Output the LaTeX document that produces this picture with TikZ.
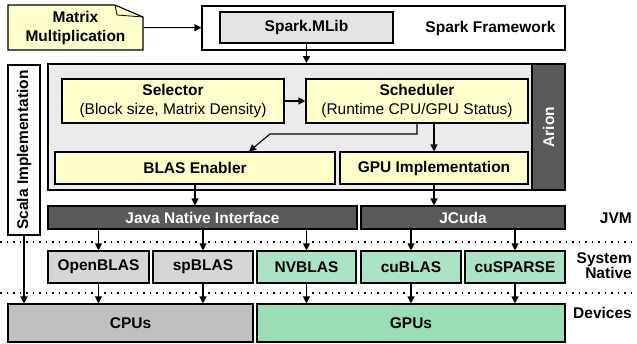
\documentclass[tikz,border=0pt]{standalone}
\usepackage{fontspec}
\setmainfont{Liberation Sans}
\usetikzlibrary{arrows.meta}
\definecolor{noteyellow}{RGB}{255,255,204}
\definecolor{arionbg}{RGB}{235,235,235}
\definecolor{mlibgray}{RGB}{228,228,228}
\definecolor{jvmgray}{RGB}{89,89,89}
\definecolor{cpulib}{RGB}{214,214,214}
\definecolor{cpudev}{RGB}{192,192,192}
\definecolor{gpulib}{RGB}{172,226,198}
\definecolor{gpudev}{RGB}{155,221,180}
\tikzset{
box/.style={draw, line width=1.1pt, inner sep=0pt, align=center, font=\bfseries\fontsize{15.5}{19}\selectfont},
darkbox/.style={box, fill=jvmgray, text=white},
arr/.style={line width=1.1pt, -{Triangle[length=7pt,width=7pt]}},
layersep/.style={line width=1.3pt, dash pattern=on 1.5pt off 5pt},
layerlbl/.style={anchor=east, inner sep=0pt, align=right, font=\bfseries\fontsize{15.5}{15}\selectfont}
}
\begin{document}
\begin{tikzpicture}[x=1pt, y=-1pt]
\useasboundingbox (0,0) rectangle (637,343);
% top row
\coordinate (mmcenter) at (75.5,27.5);
\draw[line width=1.1pt, fill=noteyellow] (8,50) -- (8,5) -- (115,5) -- (143,17) -- (143,50) -- cycle;
\draw[line width=0.8pt] (115,5) -- (117,15) -- (143,17);
\node[box, draw=none, minimum width=135pt, minimum height=45pt] (mm) at (mmcenter) {Matrix\\Multiplication};
\node[box, minimum width=363pt, minimum height=44pt] (sf) at (383.5,28) {};
\node[box, fill=mlibgray, minimum width=173pt, minimum height=31pt] (mlib) at (306.5,27.5) {Spark.MLib};
\node[box, draw=none] (sftxt) at (490.5,28.5) {Spark Framework};
\draw[arr] (mm) -- (sf);
% Arion
\node[box, fill=white, rotate=90, minimum width=170pt, minimum height=32pt] (scala) at (24,150) {Scala Implementation};
\node[box, line width=1.8pt, fill=arionbg, minimum width=517pt, minimum height=126pt] (arion) at (306.5,127) {};
\node[darkbox, line width=1.8pt, rotate=90, minimum width=126pt, minimum height=33pt] (ariontag) at (548.5,127) {Arion};
\node[box, fill=noteyellow, minimum width=222pt, minimum height=44pt] (sel) at (173,101) {Selector\\\mdseries(Block size, Matrix Density)};
\node[box, fill=noteyellow, minimum width=222pt, minimum height=44pt] (sched) at (417,101) {Scheduler\\\mdseries(Runtime CPU/GPU Status)};
\node[box, fill=noteyellow, minimum width=280pt, minimum height=32pt] (blas) at (195,168) {BLAS Enabler};
\node[box, fill=noteyellow, minimum width=188pt, minimum height=32pt] (gpuimpl) at (434,168) {GPU Implementation};
\coordinate (schedturn) at (270,134);
\coordinate (enabin) at (249,0);
\draw[arr] (mlib.south) -- (mlib.south |- arion.north);
\draw[arr] (sel) -- (sched);
\draw[arr] (sched.south) |- (schedturn) -- (blas.north -| enabin);
\draw[arr] (gpuimpl.north |- sched.south) -- (gpuimpl.north);
% JVM
\node[darkbox, minimum width=309pt, minimum height=23pt] (jni) at (202.5,217.5) {Java Native Interface};
\node[darkbox, minimum width=204pt, minimum height=23pt] (jcuda) at (463,217.5) {JCuda};
\node[layerlbl] (jvmlbl) at (632,218) {JVM};
\draw[arr] (blas.south) -- (blas.south |- jni.north);
\draw[arr] (gpuimpl.south) -- (gpuimpl.south |- jcuda.north);
\draw[layersep] (0,242) -- (637,242);
% System Native
\node[box, fill=cpulib, minimum width=101pt, minimum height=32pt] (openblas) at (98.5,267) {OpenBLAS};
\node[box, fill=cpulib, minimum width=100pt, minimum height=32pt] (spblas) at (203,267) {spBLAS};
\node[box, fill=gpulib, minimum width=99pt, minimum height=32pt] (nvblas) at (306.5,267) {NVBLAS};
\node[box, fill=gpulib, minimum width=100pt, minimum height=32pt] (cublas) at (411,267) {cuBLAS};
\node[box, fill=gpulib, minimum width=100pt, minimum height=32pt] (cusparse) at (515,267) {cuSPARSE};
\node[layerlbl] (syslbl) at (632,266) {System\\Native};
\foreach \lib in {openblas, spblas, nvblas} {
\draw[arr] (\lib.north |- jni.south) -- (\lib.north);
}
\foreach \lib in {cublas, cusparse} {
\draw[arr] (\lib.north |- jcuda.south) -- (\lib.north);
}
\draw[layersep] (0,293) -- (637,293);
% Devices
\node[box, fill=cpudev, minimum width=245pt, minimum height=38pt] (cpus) at (130.5,323) {CPUs};
\node[box, fill=gpudev, minimum width=308pt, minimum height=38pt] (gpus) at (411,323) {GPUs};
\node[layerlbl] (devlbl) at (632,313) {Devices};
\foreach \lib in {openblas, spblas} {
\draw[arr] (\lib.south) -- (\lib.south |- cpus.north);
}
\foreach \lib in {nvblas, cublas, cusparse} {
\draw[arr] (\lib.south) -- (\lib.south |- gpus.north);
}
\draw[arr] (scala.west) -- (scala.west |- cpus.north);
\end{tikzpicture}
\end{document}
